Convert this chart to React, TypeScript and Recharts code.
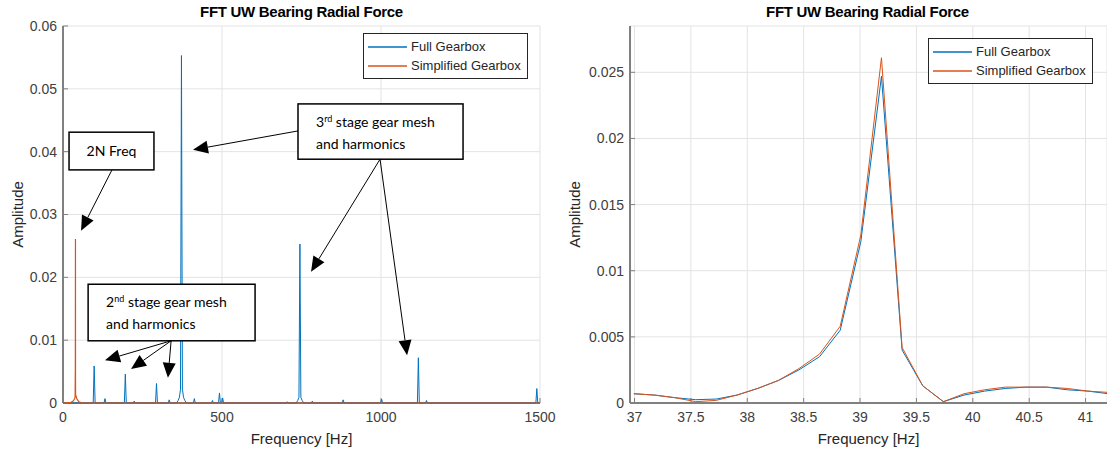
import {
  LineChart,
  Line,
  XAxis,
  YAxis,
  CartesianGrid,
  Legend,
  ReferenceArea,
  ReferenceLine,
} from "recharts";

const FULL_COLOR = "#0072BD";
const SIMPLE_COLOR = "#D95319";
const AXIS_FONT = "'Liberation Sans', Arial, sans-serif";
const NOTE_FONT = "Lato, 'Open Sans', sans-serif";

const seriesNames = ["Full Gearbox", "Simplified Gearbox"];
const seriesColors = [FULL_COLOR, SIMPLE_COLOR];

// whole spectrum, [frequency Hz, amplitude]
// (the full gearbox 2N peak sits right under the simplified one and is hidden there)
const fullSpectrum: [number, number][] = [
  [0, 0], [48, 0],
  [95, 0], [98, 0.0059], [101, 0],
  [129, 0], [132, 0.0007], [135, 0],
  [193, 0], [196, 0.0046], [199, 0],
  [221, 0], [224, 0.0003], [227, 0],
  [291, 0], [294, 0.0031], [297, 0],
  [331, 0], [334, 0.0005], [337, 0],
  [357, 0], [362, 0.0004], [366, 0.0009], [369.5, 0.0022], [372.5, 0.0553],
  [375.5, 0.0022], [379, 0.0009], [383, 0.0004], [388, 0],
  [410, 0], [413, 0.0007], [416, 0],
  [467, 0], [470, 0.0004], [473, 0],
  [489, 0], [492, 0.0016], [495, 0],
  [499, 0], [502, 0.0008], [505, 0],
  [702, 0], [705, 0.0002], [708, 0],
  [733, 0], [738, 0.0004], [742, 0.0009], [745, 0.0253], [748, 0.0009],
  [752, 0.0004], [757, 0],
  [781, 0], [784, 0.0003], [787, 0],
  [878, 0], [881, 0.0005], [884, 0],
  [999, 0], [1002, 0.0006], [1005, 0],
  [1114.5, 0], [1117.5, 0.0072], [1120.5, 0],
  [1140, 0], [1143, 0.0004], [1146, 0],
  [1487, 0], [1490, 0.0023], [1493, 0],
  [1500, 0],
];

const simplifiedSpectrum: [number, number][] = [
  [0, 0], [25, 0.0001], [32, 0.0003], [36.99, 0.0007], [38.09, 0.0011],
  [38.82, 0.0058], [39.19, 0.0261], [39.37, 0.0042], [39.56, 0.0013],
  [40.47, 0.0012], [44, 0.0006], [50, 0.0002], [60, 0], [1500, 0],
];

// zoom around the 2N frequency
const zoomFreq = [
  36.994, 37.177, 37.36, 37.543, 37.726, 37.909, 38.092, 38.275, 38.458,
  38.641, 38.824, 39.007, 39.19, 39.373, 39.556, 39.739, 39.922, 40.105,
  40.288, 40.471, 40.654, 40.837, 41.02, 41.203,
];
const zoomFull = [
  0.0007, 0.0006, 0.0004, 0.00025, 0.0003, 0.0006, 0.0011, 0.0017, 0.0025,
  0.0035, 0.0055, 0.0122, 0.0247, 0.004, 0.0013, 0.0001, 0.0006, 0.0009,
  0.0011, 0.0012, 0.0012, 0.001, 0.0009, 0.0007,
];
const zoomSimplified = [
  0.0007, 0.0006, 0.0004, 0.0001, 0.0002, 0.0006, 0.0011, 0.0017, 0.0026,
  0.0037, 0.0058, 0.0127, 0.0261, 0.0042, 0.0013, 0.0001, 0.0007, 0.001,
  0.0012, 0.0012, 0.0012, 0.0011, 0.0009, 0.0008,
];

const leftXTicks = [0, 500, 1000, 1500];
const leftYTicks = [0, 0.01, 0.02, 0.03, 0.04, 0.05, 0.06];
const rightXTicks = [37, 37.5, 38, 38.5, 39, 39.5, 40, 40.5, 41];
const rightYTicks = [0, 0.005, 0.01, 0.015, 0.02, 0.025];

type Seg = { t: string; sup?: boolean };

// text boxes, in data coordinates of the left chart
const noteBoxes: {
  f: [number, number];
  a: [number, number];
  lines: Seg[][];
  center?: boolean;
}[] = [
  { f: [19, 286], a: [0.0371, 0.0431], lines: [[{ t: "2N Freq" }]], center: true },
  {
    f: [739, 1258],
    a: [0.0388, 0.0476],
    lines: [
      [{ t: "3" }, { t: "rd", sup: true }, { t: "  stage gear mesh" }],
      [{ t: "and harmonics" }],
    ],
  },
  {
    f: [79, 604],
    a: [0.0099, 0.0189],
    lines: [
      [{ t: "2" }, { t: "nd", sup: true }, { t: " stage gear mesh" }],
      [{ t: "and harmonics" }],
    ],
  },
];

// arrows: [fromF, fromA, toF, toA]
const noteArrows: [number, number, number, number][] = [
  [154, 0.0371, 56.6, 0.0274],
  [739, 0.0433, 408.8, 0.0403],
  [997, 0.0388, 780, 0.0209],
  [997, 0.0388, 1082, 0.0076],
  [340, 0.0099, 132, 0.0068],
  [340, 0.0099, 214, 0.0054],
  [340, 0.0099, 330, 0.004],
];

const toRows = (pts: [number, number][]) => pts.map(([f, a]) => ({ f, a }));
const zoomRows = (vals: number[]) => vals.map((a, i) => ({ f: zoomFreq[i], a }));

function ArrowShape(props: any) {
  const { x1, y1, x2, y2 } = props;
  const dx = x2 - x1;
  const dy = y2 - y1;
  const len = Math.hypot(dx, dy) || 1;
  const ux = dx / len;
  const uy = dy / len;
  const head = 15;
  const half = 6.5;
  const bx = x2 - ux * head;
  const by = y2 - uy * head;
  return (
    <g>
      <line x1={x1} y1={y1} x2={bx} y2={by} stroke="#000" strokeWidth={1} />
      <polygon
        points={`${x2},${y2} ${bx - uy * half},${by + ux * half} ${bx + uy * half},${by - ux * half}`}
        fill="#000"
      />
    </g>
  );
}

function boxShape(lines: Seg[][], center?: boolean) {
  return (p: any) => (
    <g>
      <rect x={p.x} y={p.y} width={p.width} height={p.height} fill="#fff" stroke="#000" strokeWidth={1.5} />
      {lines.map((segs, i) => {
        let raised = false;
        return (
          <text
            key={i}
            x={center ? p.x + p.width / 2 : p.x + 18}
            y={center ? p.y + p.height / 2 + 5 : p.y + 23 + i * 22}
            textAnchor={center ? "middle" : "start"}
            fontFamily={NOTE_FONT}
            fontSize={14}
            fill="#000"
          >
            {segs.map((s, j) => {
              let dy = 0;
              if (s.sup) dy = -5;
              else if (raised) dy = 5;
              raised = !!s.sup;
              return (
                <tspan key={j} dy={dy} fontSize={s.sup ? 9 : 14}>
                  {s.t}
                </tspan>
              );
            })}
          </text>
        );
      })}
    </g>
  );
}

function LegendBox() {
  return (
    <div
      style={{
        background: "#fff",
        border: "1px solid #262626",
        padding: "3px 6px 3px 4px",
        fontFamily: AXIS_FONT,
        fontSize: 13,
        color: "#262626",
        lineHeight: "19px",
        whiteSpace: "nowrap",
      }}
    >
      {seriesNames.map((n, i) => (
        <div key={n} style={{ display: "flex", alignItems: "center" }}>
          <svg width={39} height={4} style={{ marginRight: 4 }}>
            <line x1={0} y1={2} x2={39} y2={2} stroke={seriesColors[i]} strokeWidth={1.5} />
          </svg>
          {n}
        </div>
      ))}
    </div>
  );
}

const tickStyle = { fill: "#404040", fontSize: 14, fontFamily: AXIS_FONT };
const axisLine = { stroke: "#808080", strokeWidth: 2 };
const axisLabelStyle = { fill: "#262626", fontSize: 15, fontFamily: AXIS_FONT };

function Title({ left, width }: { left: number; width: number }) {
  return (
    <div
      style={{
        position: "absolute",
        left,
        top: 3,
        width,
        textAlign: "center",
        fontFamily: AXIS_FONT,
        fontWeight: "bold",
        fontSize: 15,
        letterSpacing: -0.3,
        color: "#000",
      }}
    >
      FFT UW Bearing Radial Force
    </div>
  );
}

export default function App() {
  return (
    <div
      style={{
        position: "absolute",
        left: 0,
        top: 0,
        width: 1107,
        height: 455,
        overflow: "hidden",
        background: "#fff",
      }}
    >
      <Title left={63} width={477} />
      <Title left={630} width={475} />

      <div style={{ position: "absolute", left: 0, top: 0 }}>
        <LineChart width={560} height={455} margin={{ top: 26, right: 20, bottom: 7, left: 0 }}>
          <CartesianGrid stroke="#e3e3e3" />
          <XAxis
            dataKey="f"
            type="number"
            domain={[0, 1500]}
            ticks={leftXTicks}
            height={45}
            tick={tickStyle}
            tickSize={-5}
            tickMargin={14}
            tickLine={{ stroke: "#808080" }}
            axisLine={axisLine}
            label={{ value: "Frequency [Hz]", position: "insideBottom", offset: 4, style: axisLabelStyle }}
          />
          <YAxis
            dataKey="a"
            type="number"
            domain={[0, 0.06]}
            ticks={leftYTicks}
            width={63}
            tick={tickStyle}
            tickSize={-5}
            tickMargin={11}
            tickLine={{ stroke: "#808080" }}
            axisLine={axisLine}
            label={{
              value: "Amplitude",
              angle: -90,
              position: "insideLeft",
              offset: 18,
              style: { ...axisLabelStyle, textAnchor: "middle" },
            }}
          />
          <Line
            data={toRows(fullSpectrum)}
            dataKey="a"
            name={seriesNames[0]}
            stroke={FULL_COLOR}
            strokeWidth={1}
            dot={false}
            activeDot={false}
            isAnimationActive={false}
            zIndex={600}
          />
          <Line
            data={toRows(simplifiedSpectrum)}
            dataKey="a"
            name={seriesNames[1]}
            stroke={SIMPLE_COLOR}
            strokeWidth={1.2}
            dot={false}
            activeDot={false}
            isAnimationActive={false}
            zIndex={610}
          />
          {noteBoxes.map((b, i) => (
            <ReferenceArea
              key={`box${i}`}
              x1={b.f[0]}
              x2={b.f[1]}
              y1={b.a[0]}
              y2={b.a[1]}
              shape={boxShape(b.lines, b.center)}
              zIndex={1000}
            />
          ))}
          {noteArrows.map((a, i) => (
            <ReferenceLine
              key={`arrow${i}`}
              segment={[
                { x: a[0], y: a[1] },
                { x: a[2], y: a[3] },
              ]}
              shape={ArrowShape}
              zIndex={1000}
            />
          ))}
          <Legend
            layout="vertical"
            align="center"
            verticalAlign="middle"
            wrapperStyle={{ left: 363, top: 33 }}
            content={() => <LegendBox />}
          />
        </LineChart>
      </div>

      <div style={{ position: "absolute", left: 556, top: 0 }}>
        <LineChart width={551} height={455} margin={{ top: 26, right: 0, bottom: 7, left: 0 }}>
          <CartesianGrid stroke="#e3e3e3" />
          <XAxis
            dataKey="f"
            type="number"
            domain={[36.96, 41.19]}
            allowDataOverflow
            ticks={rightXTicks}
            height={45}
            tick={tickStyle}
            tickSize={-5}
            tickMargin={14}
            tickLine={{ stroke: "#808080" }}
            axisLine={axisLine}
            label={{ value: "Frequency [Hz]", position: "insideBottom", offset: 4, style: axisLabelStyle }}
          />
          <YAxis
            dataKey="a"
            type="number"
            domain={[0, 0.0285]}
            allowDataOverflow
            ticks={rightYTicks}
            width={74}
            tick={tickStyle}
            tickSize={-5}
            tickMargin={11}
            tickLine={{ stroke: "#808080" }}
            axisLine={axisLine}
            label={{
              value: "Amplitude",
              angle: -90,
              position: "insideLeft",
              offset: 19,
              style: { ...axisLabelStyle, textAnchor: "middle" },
            }}
          />
          <Line
            data={zoomRows(zoomFull)}
            dataKey="a"
            name={seriesNames[0]}
            stroke={FULL_COLOR}
            strokeWidth={1}
            dot={false}
            activeDot={false}
            isAnimationActive={false}
            zIndex={600}
          />
          <Line
            data={zoomRows(zoomSimplified)}
            dataKey="a"
            name={seriesNames[1]}
            stroke={SIMPLE_COLOR}
            strokeWidth={1}
            dot={false}
            activeDot={false}
            isAnimationActive={false}
            zIndex={610}
          />
          <Legend
            layout="vertical"
            align="center"
            verticalAlign="middle"
            wrapperStyle={{ left: 372, top: 38 }}
            content={() => <LegendBox />}
          />
        </LineChart>
      </div>
    </div>
  );
}
